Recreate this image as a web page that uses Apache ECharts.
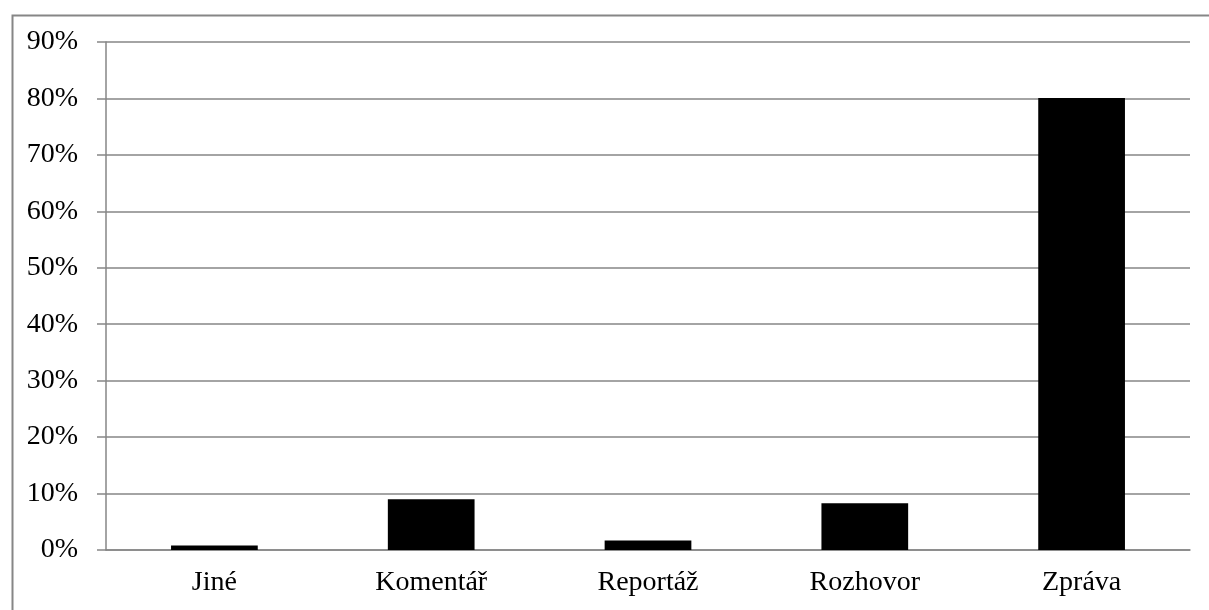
<!DOCTYPE html>
<html>
<head>
<meta charset="utf-8">
<script src="https://cdn.jsdelivr.net/npm/echarts@6/dist/echarts.min.js"></script>
<style>html,body{margin:0;padding:0;background:#fff;}#c{width:1209px;height:610px;}</style>
</head>
<body>
<div id="c"></div>
<script>
const categories = ['Jiné', 'Komentář', 'Reportáž', 'Rozhovor', 'Zpráva'];
const values = [0.8, 9.0, 1.7, 8.3, 80.1];
const yTicks = { min: 0, max: 90, interval: 10 };

const chart = echarts.init(document.getElementById('c'));
const gray = '#868686';
const font = 'Liberation Serif, Times New Roman, serif';
chart.setOption({
  animation: false,
  backgroundColor: '#fff',
  graphic: [{
    type: 'rect', left: 10, top: 13,
    shape: { width: 1260, height: 700 },
    style: { fill: 'none', stroke: gray, lineWidth: 2 }
  }],
  grid: { left: 106, right: 19, top: 42, bottom: 60 },
  xAxis: {
    type: 'category',
    data: categories,
    axisLine: { lineStyle: { color: gray, width: 1.5 } },
    axisTick: { length: 8, lineStyle: { color: gray, width: 1.5 } },
    axisLabel: { color: '#000', fontFamily: font, fontSize: 28, margin: 19 }
  },
  yAxis: {
    type: 'value',
    min: yTicks.min, max: yTicks.max, interval: yTicks.interval,
    axisLine: { show: true, lineStyle: { color: gray, width: 1.5 } },
    axisTick: { show: true, length: 9, lineStyle: { color: gray, width: 1.5 } },
    splitLine: { lineStyle: { color: gray, width: 1.5 } },
    axisLabel: { color: '#000', fontFamily: font, fontSize: 28, margin: 28, formatter: '{value}%' }
  },
  series: [{
    type: 'bar',
    data: values,
    barWidth: '40%',
    itemStyle: { color: '#000' }
  }]
});
</script>
</body>
</html>
